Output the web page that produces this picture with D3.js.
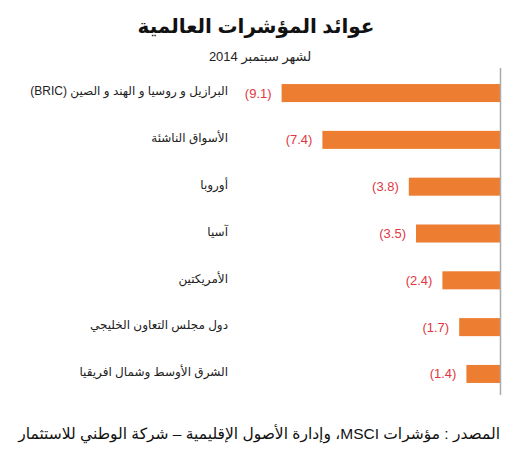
<!DOCTYPE html>
<html>
 <head>
   <meta charset="utf-8">
   <title>عوائد المؤشرات العالمية</title>
   <script type="text/javascript" src="https://cdn.jsdelivr.net/npm/d3@7"></script>
   <style type="text/css">
		body { margin: 0; background: #fff; }
		svg { display: block; }
		text { font-family: Arial, "Liberation Sans", "DejaVu Sans", sans-serif; }
		.title { font-size: 20px; font-weight: bold; fill: #111; }
		.sub { font-size: 13px; fill: #222; }
		.cat { font-size: 12px; fill: #222; }
		.val { font-size: 13px; fill: #e0383e; }
		.src { font-size: 15.5px; fill: #111; }
   </style>
 </head>
 <body>
   <script type="text/javascript">

	var categories = ['البرازيل و روسيا و الهند و الصين (BRIC)', 'الأسواق الناشئة', 'أوروبا', 'آسيا', 'الأمريكتين', 'دول مجلس التعاون الخليجي', 'الشرق الأوسط وشمال افريقيا'];
	var values = [-9.1, -7.4, -3.8, -3.5, -2.4, -1.7, -1.4];
	var titleText = 'عوائد المؤشرات العالمية';
	var subText = 'لشهر سبتمبر 2014';
	var sourceText = 'المصدر : مؤشرات MSCI، وإدارة الأصول الإقليمية – شركة الوطني للاستثمار';

	var W = 523, H = 450;
	var svg = d3.select('body').append('svg').attr('width', W).attr('height', H);

	var x = d3.scaleLinear().domain([-10, 0]).range([260, 500]);
	var y = d3.scaleBand().domain(categories).range([70, 397])
		.paddingInner(0.615).paddingOuter(0.3);

	svg.append('text').attr('class', 'title')
		.attr('x', 256).attr('y', 33).attr('text-anchor', 'middle')
		.attr('direction', 'rtl').text(titleText);
	svg.append('text').attr('class', 'sub')
		.attr('x', 260).attr('y', 61).attr('text-anchor', 'middle')
		.attr('direction', 'rtl').text(subText);

	var rows = svg.append('g').selectAll('g').data(values).enter().append('g');

	rows.append('rect')
		.attr('x', function(d) { return x(d) })
		.attr('y', function(d, i) { return y(categories[i]) })
		.attr('width', function(d) { return x(0) - x(d) })
		.attr('height', y.bandwidth())
		.attr('fill', '#ED7D31');

	rows.append('text').attr('class', 'val')
		.attr('x', function(d) { return x(d) - 10 })
		.attr('y', function(d, i) { return y(categories[i]) + y.bandwidth() / 2 })
		.attr('dy', '0.35em').attr('text-anchor', 'end')
		.text(function(d) { return '(' + d3.format('.1f')(-d) + ')' });

	rows.append('text').attr('class', 'cat')
		.attr('x', 228)
		.attr('y', function(d, i) { return y(categories[i]) + y.bandwidth() / 2 - 2 })
		.attr('dy', '0.35em').attr('text-anchor', 'start')
		.attr('direction', 'rtl')
		.text(function(d, i) { return categories[i] });

	// zero line on the right
	svg.append('line')
		.attr('x1', x(0) + 0.5).attr('x2', x(0) + 0.5)
		.attr('y1', 68).attr('y2', 395)
		.attr('stroke', '#aaa').attr('stroke-width', 1.5);

	svg.append('text').attr('class', 'src')
		.attr('x', 500).attr('y', 439).attr('text-anchor', 'start')
		.attr('direction', 'rtl').text(sourceText);

    </script>
 </body>
</html>
